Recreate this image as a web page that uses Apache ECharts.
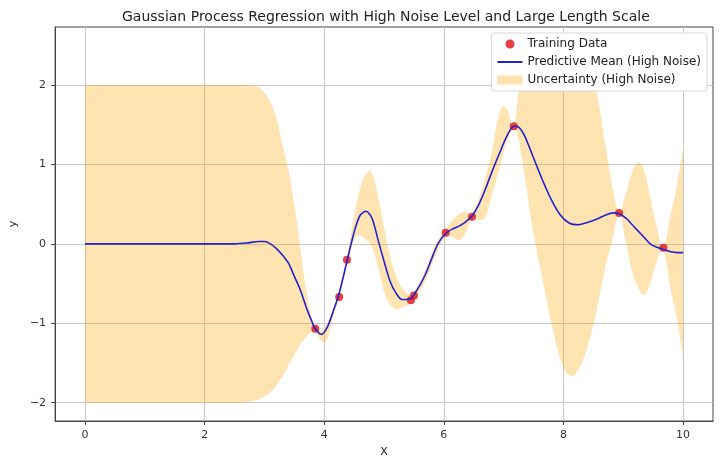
<!DOCTYPE html>
<html>
<head>
<meta charset="utf-8">
<title>Gaussian Process Regression</title>
<script src="https://cdn.jsdelivr.net/npm/echarts@6/dist/echarts.min.js"></script>
<style>
    html, body { margin: 0; padding: 0; background: #fff; }
    #chart { width: 720px; height: 466px; }
</style>
</head>
<body>
<div id="chart"></div>
<script>
// values
var gridX = [0, 0.5, 1, 1.5, 2, 2.5, 2.7, 2.9, 3.0, 3.1, 3.2, 3.3, 3.4, 3.5, 3.6, 3.7, 3.8, 3.85, 3.95, 4.05,
    4.15, 4.25, 4.38, 4.5, 4.6, 4.7, 4.8, 4.9, 5.0, 5.1, 5.2, 5.3, 5.45, 5.5, 5.6, 5.7, 5.8, 5.9, 6.03, 6.15,
    6.27, 6.37, 6.47, 6.6, 6.7, 6.8, 6.93, 7.05, 7.17, 7.25, 7.35, 7.5, 7.65, 7.8, 7.95, 8.1, 8.25, 8.4, 8.55, 8.7,
    8.82, 8.93, 9.05, 9.15, 9.25, 9.35, 9.45, 9.55, 9.67, 9.8, 9.9, 10];
var meanY = [0, 0, 0, 0, 0, 0, 0.01, 0.03, 0.03, 0.0, -0.06, -0.14, -0.24, -0.41, -0.58, -0.8, -0.99, -1.07, -1.14, -1.05,
    -0.85, -0.62, -0.22, 0.15, 0.36, 0.41, 0.32, 0.05, -0.22, -0.47, -0.62, -0.7, -0.69, -0.64, -0.52, -0.37, -0.18, 0.0, 0.13, 0.19,
    0.23, 0.28, 0.35, 0.52, 0.7, 0.9, 1.14, 1.35, 1.48, 1.47, 1.36, 1.08, 0.8, 0.55, 0.36, 0.26, 0.24, 0.27, 0.31, 0.36,
    0.39, 0.38, 0.32, 0.24, 0.16, 0.08, 0.0, -0.04, -0.07, -0.1, -0.11, -0.11];
var lowerY = [-2, -2, -2, -2, -2, -2, -1.99, -1.96, -1.92, -1.87, -1.78, -1.67, -1.53, -1.4, -1.27, -1.17, -1.1, -1.1, -1.22, -1.2,
    -0.9, -0.68, -0.26, 0.05, 0.1, 0.05, -0.05, -0.3, -0.6, -0.76, -0.82, -0.8, -0.74, -0.69, -0.6, -0.45, -0.27, -0.08, 0.08, 0.08,
    0.05, 0.15, 0.32, 0.3, 0.35, 0.6, 0.95, 1.28, 1.44, 1.3, 0.85, 0.12, -0.45, -1.0, -1.45, -1.65, -1.58, -1.3, -0.85, -0.3,
    0.05, 0.35, 0.0, -0.35, -0.55, -0.64, -0.5, -0.25, -0.1, -0.6, -0.95, -1.42];
var upperY = [2, 2, 2, 2, 2, 2, 2.0, 1.97, 1.9, 1.78, 1.58, 1.25, 0.93, 0.5, -0.05, -0.58, -0.95, -1.03, -1.08, -1.0,
    -0.8, -0.58, -0.15, 0.35, 0.7, 0.88, 0.88, 0.6, 0.2, -0.15, -0.4, -0.55, -0.64, -0.6, -0.47, -0.3, -0.12, 0.05, 0.17, 0.3,
    0.38, 0.4, 0.38, 0.6, 0.85, 1.15, 1.65, 1.7, 1.5, 1.9, 2.2, 2.4, 2.5, 2.5, 2.5, 2.45, 2.35, 2.2, 1.9, 1.25,
    0.72, 0.42, 0.65, 0.9, 1.02, 0.92, 0.6, 0.25, -0.02, 0.4, 0.75, 1.21];
var trainX = [3.85, 4.25, 4.38, 5.45, 5.5, 6.03, 6.47, 7.17, 8.93, 9.67];
var trainY = [-1.07, -0.67, -0.2, -0.71, -0.65, 0.14, 0.34, 1.48, 0.39, -0.05];
var xTicks = [0, 2, 4, 6, 8, 10];
var yTicks = [-2, -1, 0, 1, 2];

(function () {
    var chart = echarts.init(document.getElementById('chart'), null, { renderer: 'canvas' });
    var font = 'DejaVu Sans';

    var meanData = gridX.map(function (x, i) { return [x, meanY[i]]; });
    var bandData = gridX.map(function (x, i) { return [x, lowerY[i], upperY[i]]; });
    var pointData = trainX.map(function (x, i) { return [x, trainY[i]]; });

    // smooth curve through pixel points, control points kept inside each x step
    function curvePath(pts) {
        var s = 0.5, d = '';
        for (var i = 0; i < pts.length - 1; i++) {
            var p0 = pts[Math.max(i - 1, 0)], p1 = pts[i], p2 = pts[i + 1], p3 = pts[Math.min(i + 2, pts.length - 1)];
            var k1 = s * (p2[0] - p1[0]) / ((p2[0] - p0[0]) || 1);
            var k2 = s * (p2[0] - p1[0]) / ((p3[0] - p1[0]) || 1);
            var c1 = [p1[0] + (p2[0] - p0[0]) * k1, p1[1] + (p2[1] - p0[1]) * k1];
            var c2 = [p2[0] - (p3[0] - p1[0]) * k2, p2[1] - (p3[1] - p1[1]) * k2];
            d += ' C' + c1[0] + ',' + c1[1] + ' ' + c2[0] + ',' + c2[1] + ' ' + p2[0] + ',' + p2[1];
        }
        return d;
    }

    // the whole band is one shape: upper edge left to right, lower edge back
    function renderBand(params, api) {
        if (params.dataIndex !== 0) {
            return null;
        }
        var top = [], bottom = [];
        for (var i = 0; i < bandData.length; i++) {
            top.push(api.coord([bandData[i][0], bandData[i][2]]));
            bottom.push(api.coord([bandData[i][0], bandData[i][1]]));
        }
        bottom.reverse();
        var d = 'M' + top[0][0] + ',' + top[0][1] + curvePath(top)
            + ' L' + bottom[0][0] + ',' + bottom[0][1] + curvePath(bottom) + ' Z';
        return {
            type: 'path',
            shape: { pathData: d },
            style: { fill: 'orange', opacity: 0.3 },
            clipPath: {
                type: 'rect',
                shape: {
                    x: params.coordSys.x, y: params.coordSys.y,
                    width: params.coordSys.width, height: params.coordSys.height
                }
            }
        };
    }

    function minus(v) {
        return String(v).replace('-', '\u2212');
    }

    var option = {
        animation: false,
        backgroundColor: '#fff',
        textStyle: { fontFamily: font },
        title: {
            text: 'Gaussian Process Regression with High Noise Level and Large Length Scale',
            left: 117,
            top: 5,
            textStyle: { fontFamily: font, fontSize: 14, fontWeight: 'normal', color: '#222' }
        },
        legend: {
            orient: 'vertical',
            right: 13,
            top: 33,
            itemWidth: 25,
            itemHeight: 9,
            itemGap: 6,
            padding: [5, 6, 5, 6],
            backgroundColor: '#fff',
            borderColor: '#d6d6d6',
            borderWidth: 1,
            borderRadius: 3,
            textStyle: { fontFamily: font, fontSize: 12, color: '#222' },
            data: [
                { name: 'Training Data', icon: 'circle' },
                { name: 'Predictive Mean (High Noise)', icon: 'path://M0,0 L25,0 L25,2 L0,2 Z' },
                { name: 'Uncertainty (High Noise)', icon: 'rect' }
            ]
        },
        grid: {
            left: 52, right: 7, top: 27, bottom: 45,
            show: true,
            borderColor: '#444',
            borderWidth: 1
        },
        xAxis: {
            type: 'value',
            min: -0.5,
            max: 10.5,
            name: 'X',
            nameLocation: 'middle',
            nameGap: 26,
            nameTextStyle: { fontFamily: font, fontSize: 11, color: '#222' },
            axisLine: { onZero: false, lineStyle: { color: '#444' } },
            axisTick: { show: true, length: 4, customValues: xTicks, lineStyle: { color: '#444' } },
            axisLabel: { customValues: xTicks, fontSize: 11, color: '#333', margin: 9, formatter: minus },
            splitLine: { show: true, lineStyle: { color: '#c8c8c8', width: 1 } }
        },
        yAxis: {
            type: 'value',
            min: -2.23,
            max: 2.73,
            name: 'y',
            nameLocation: 'middle',
            nameGap: 36,
            nameTextStyle: { fontFamily: font, fontSize: 11, color: '#222' },
            axisLine: { show: true, onZero: false, lineStyle: { color: '#444' } },
            axisTick: { show: true, length: 4, customValues: yTicks, lineStyle: { color: '#444' } },
            axisLabel: { customValues: yTicks, fontSize: 11, color: '#333', margin: 9, formatter: minus },
            splitLine: { show: true, lineStyle: { color: '#c8c8c8', width: 1 } }
        },
        series: [
            {
                name: 'Uncertainty (High Noise)',
                type: 'custom',
                renderItem: renderBand,
                data: bandData,
                encode: { x: 0, y: [1, 2] },
                silent: true,
                itemStyle: { color: '#ffe2ae' },
                z: 1
            },
            {
                name: 'Training Data',
                type: 'scatter',
                data: pointData,
                symbolSize: 8,
                itemStyle: { color: '#e0101a' },
                z: 3
            },
            {
                name: 'Predictive Mean (High Noise)',
                type: 'line',
                data: meanData,
                symbol: 'none',
                smooth: 0.3,
                itemStyle: { color: '#2222cc' },
                lineStyle: { color: '#2222cc', width: 1.6 },
                z: 4
            }
        ]
    };

    chart.setOption(option);
})();
</script>
</body>
</html>
